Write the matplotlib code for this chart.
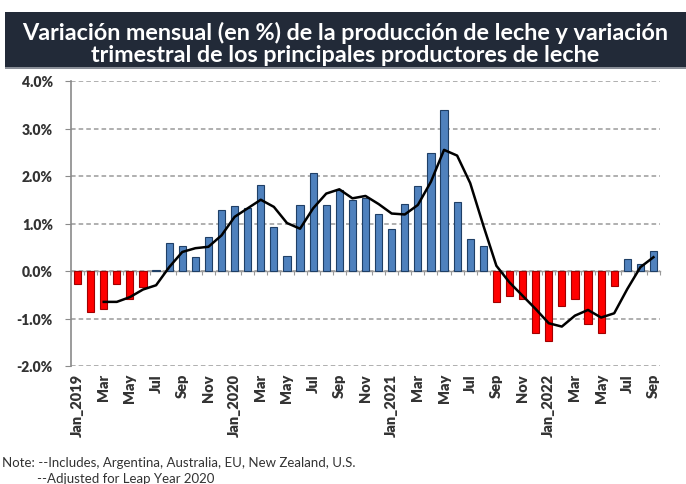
import matplotlib
matplotlib.use("Agg")
import matplotlib.pyplot as plt
import numpy as np
from matplotlib.patches import Rectangle

plt.rcParams['font.family'] = ['Lato', 'DejaVu Sans']

months = ["Jan_2019", "Feb", "Mar", "Apr", "May", "Jun", "Jul", "Aug", "Sep", "Oct", "Nov", "Dec",
          "Jan_2020", "Feb", "Mar", "Apr", "May", "Jun", "Jul", "Aug", "Sep", "Oct", "Nov", "Dec",
          "Jan_2021", "Feb", "Mar", "Apr", "May", "Jun", "Jul", "Aug", "Sep", "Oct", "Nov", "Dec",
          "Jan_2022", "Feb", "Mar", "Apr", "May", "Jun", "Jul", "Aug", "Sep"]

monthly = [-0.27, -0.87, -0.81, -0.27, -0.58, -0.34, 0.03, 0.60, 0.52, 0.30, 0.72, 1.28,
           1.37, 1.33, 1.81, 0.92, 0.31, 1.40, 2.06, 1.39, 1.70, 1.49, 1.53, 1.20,
           0.88, 1.42, 1.80, 2.49, 3.39, 1.46, 0.68, 0.53, -0.66, -0.52, -0.59, -1.30,
           -1.47, -0.73, -0.58, -1.12, -1.30, -0.31, 0.25, 0.15, 0.43]

quarterly = [np.nan, np.nan, -0.65, -0.65, -0.55, -0.39, -0.30, 0.08, 0.40, 0.48, 0.51, 0.75,
             1.14, 1.32, 1.50, 1.35, 1.01, 0.89, 1.32, 1.63, 1.72, 1.53, 1.58, 1.41,
             1.21, 1.19, 1.39, 1.88, 2.55, 2.43, 1.85, 0.96, 0.11, -0.24, -0.52, -0.80,
             -1.10, -1.17, -0.94, -0.82, -0.98, -0.89, -0.38, 0.08, 0.29]

yticks = [-2, -1, 0, 1, 2, 3, 4]
ytick_labels = ["-2.0%", "-1.0%", "0.0%", "1.0%", "2.0%", "3.0%", "4.0%"]

title = ("Variación mensual (en %) de la producción de leche y variación\n"
         "trimestral de los principales productores de leche")
note1 = "Note: --Includes, Argentina, Australia, EU, New Zealand, U.S."
note2 = "--Adjusted for Leap Year 2020"

fig = plt.figure(figsize=(6.86, 4.85), dpi=100)
fig.patch.set_facecolor('white')

# title banner
fig.patches.append(Rectangle((5/686, 1-68/485), 681/686, 55/485, transform=fig.transFigure,
                             facecolor='#222a38', edgecolor='none', zorder=0))
fig.patches.append(Rectangle((5/686, 1-70/485), 681/686, 2/485, transform=fig.transFigure,
                             facecolor='#8a8f98', edgecolor='none', zorder=0))
fig.text(0.503, 1-44/485, title, ha='center', va='center', color='white',
         fontsize=16.8, fontweight='bold', linespacing=1.1)

ax = fig.add_axes([71/686, 1-367/485, 589/686, 285/485])
x = np.arange(len(months))
vals = np.array(monthly)
colors = ['#4f81bd' if v >= 0 else '#ff0000' for v in vals]
edges = ['#1f3f66' if v >= 0 else '#a00000' for v in vals]
ax.bar(x, vals, width=0.55, color=colors, edgecolor=edges, linewidth=0.8, zorder=3)
ax.plot(x, quarterly, color='black', linewidth=1.8, zorder=4, solid_joinstyle='round')

ax.set_xlim(-0.5, len(months) - 0.5)
ax.set_ylim(-2, 4)
ax.set_yticks(yticks)
ax.set_yticklabels(ytick_labels, fontsize=10, fontweight='heavy', color='#333333')
ax.yaxis.grid(True, linestyle=(0, (3, 2)), color='#9a9a9a', linewidth=1.1, zorder=0)
ax.tick_params(axis='y', length=4, color='#8a8a8a', pad=9)

for s in ['top', 'right', 'bottom']:
    ax.spines[s].set_visible(False)
ax.spines['left'].set_color('#8a8a8a')
ax.spines['left'].set_linewidth(1.2)

ax.set_xticks(x[::2])
ax.set_xticklabels(months[::2], rotation=90, fontsize=10.5, fontweight='heavy', color='#333333')
ax.tick_params(axis='x', length=0, pad=5)

# zero axis line with category boundary ticks
sec = ax.secondary_xaxis(2/6)
sec.set_xticks(np.arange(len(months) + 1) - 0.5)
sec.set_xticklabels([])
sec.tick_params(axis='x', length=3, color='#9a9a9a', direction='out')
sec.spines['bottom'].set_color('#9a9a9a')
sec.spines['bottom'].set_linewidth(1.0)

fig.text(2/686, 1-463/485, note1, ha='left', va='center', fontsize=9.5, color='#333333')
fig.text(37/686, 1-479/485, note2, ha='left', va='center', fontsize=9.5, color='#333333')

fig.savefig('out.png', dpi=100, facecolor='white')
